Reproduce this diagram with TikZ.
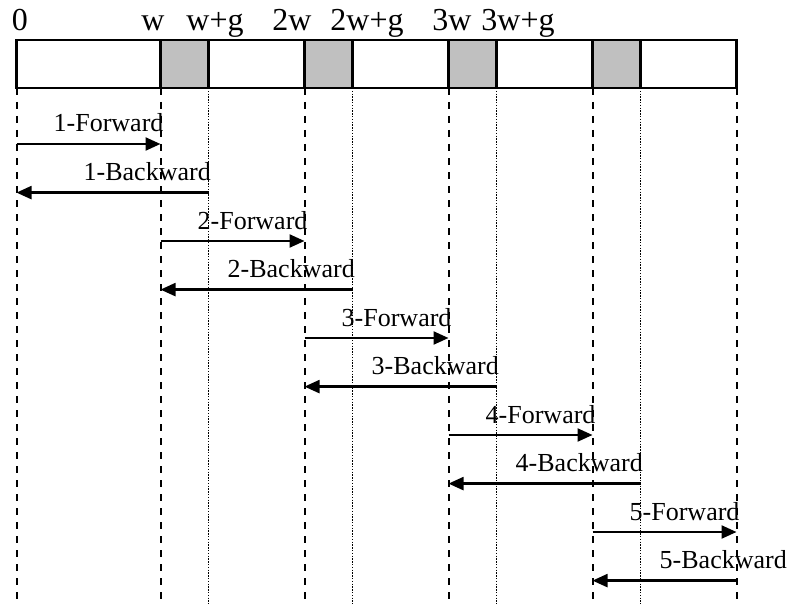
\documentclass[tikz,border=0pt]{standalone}
\usepackage{fontspec}
\setmainfont{Liberation Serif}
\usetikzlibrary{arrows.meta,positioning}
\definecolor{cellgrey}{RGB}{192,192,192}
\begin{document}
\begin{tikzpicture}[x=1pt,y=-1pt,
cut/.style={line width=2pt,dash pattern=on 7pt off 7pt},
gapline/.style={line width=1.2pt,dash pattern=on 1.4pt off 1.4pt},
msg/.style={line width=2.3pt,-{Triangle[length=15pt,width=13pt]}},
lbl/.style={anchor=base west,inner sep=0pt,font=\fontsize{26}{30}\selectfont},
tick/.style={anchor=base,inner sep=0pt,font=\fontsize{32}{36}\selectfont}]
\useasboundingbox (0,0) rectangle (791,604);
\foreach \k in {1,2,3,4} {
\fill[cellgrey] (16.5+144*\k,40) rectangle +(48,48);
\draw[gapline] (64.5+144*\k,88) -- (64.5+144*\k,604);
\draw[line width=2.4pt] (16.5+144*\k,40) -- +(0,48) (64.5+144*\k,40) -- +(0,48);
}
\foreach \k in {0,1,2,3,4,5} {
\draw[cut] (16.5+144*\k,88) -- (16.5+144*\k,604);
}
\draw[line width=2.4pt] (16.5,40) rectangle (736.5,88);
\node[tick] (t0) at (20,31) {0};
\node[tick] (t1) at (153,31) {w};
\node[tick] (t1g) at (215,31) {w+g};
\node[tick] (t2) at (292,31) {2w};
\node[tick] (t2g) at (367,31) {2w+g};
\node[tick] (t3) at (452,31) {3w};
\node[tick] (t3g) at (518,31) {3w+g};
\foreach \n/\e in {1/209,2/353,3/497,4/641,5/736.5} {
\coordinate (fs\n) at (16.5+144*\n-144,144+97*\n-97);
\coordinate (fe\n) at (16.5+144*\n,144+97*\n-97);
\coordinate (bs\n) at (\e,192.6+97*\n-97);
\coordinate (be\n) at (16.5+144*\n-144,192.6+97*\n-97);
\draw[msg] (fs\n) -- (fe\n);
\draw[msg] (bs\n) -- (be\n);
\node[lbl] (fl\n) at ([shift={(37,-12)}]fs\n) {\n-Forward};
\node[lbl] (bl\n) at ([shift={(67,-12)}]be\n) {\n-Backward};
}
\end{tikzpicture}
\end{document}
